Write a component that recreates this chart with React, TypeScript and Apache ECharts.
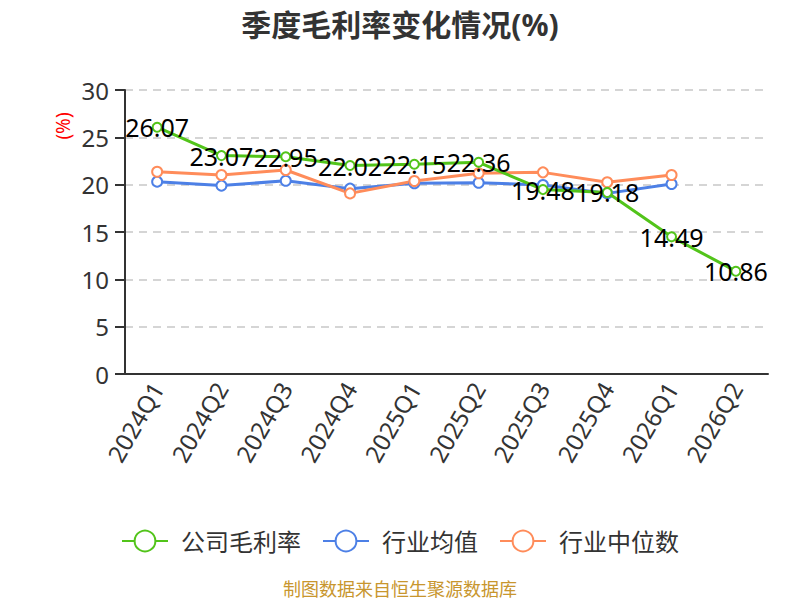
import React, { useEffect, useRef } from "react";
import * as echarts from "echarts";

const categories = ["2024Q1", "2024Q2", "2024Q3", "2024Q4", "2025Q1", "2025Q2", "2025Q3", "2025Q4", "2026Q1", "2026Q2"];
const companyMargin = [26.07, 23.07, 22.95, 22.02, 22.15, 22.36, 19.48, 19.18, 14.49, 10.86];
const industryAvg = [20.32, 19.9, 20.42, 19.58, 20.15, 20.2, 19.97, 19.08, 20.07, null];
const industryMedian = [21.37, 21.02, 21.55, 19.08, 20.39, 21.2, 21.3, 20.25, 21.02, null];

const FONT = "'Noto Sans', 'Noto Sans CJK SC', sans-serif";

export default function App() {
  const ref = useRef<HTMLDivElement>(null);
  useEffect(() => {
    document.body.style.margin = "0";
    const chart = echarts.init(ref.current!, null, { renderer: "svg" });
    chart.setOption({
      animation: false,
      textStyle: { fontFamily: FONT },
      title: {
        text: "季度毛利率变化情况(%)",
        left: "center",
        top: 4,
        textStyle: { fontSize: 30, fontWeight: "bold", color: "#333", fontFamily: FONT },
      },
      grid: { left: 125, right: 32, top: 90, bottom: 226 },
      legend: {
        top: 524,
        left: "center",
        itemWidth: 46,
        itemHeight: 26,
        itemGap: 21,
        textStyle: { fontSize: 24, color: "#333", fontFamily: FONT, padding: [0, 0, 0, 8] },
        data: ["公司毛利率", "行业均值", "行业中位数"],
      },
      graphic: [
        {
          type: "text",
          x: 400,
          y: 589,
          style: {
            text: "制图数据来自恒生聚源数据库",
            fill: "#c8962e",
            fontSize: 18,
            fontFamily: FONT,
            align: "center",
            verticalAlign: "middle",
          },
        },
        {
          type: "text",
          x: 63,
          y: 126,
          rotation: Math.PI / 2,
          style: {
            text: "(%)",
            fill: "red",
            fontSize: 19,
            fontFamily: FONT,
            align: "center",
            verticalAlign: "middle",
          },
        },
      ],
      xAxis: {
        type: "category",
        data: categories,
        boundaryGap: true,
        axisLine: { lineStyle: { color: "#333", width: 2 } },
        axisTick: { lineStyle: { color: "#333", width: 2 }, length: 6 },
        axisLabel: { rotate: 60, fontSize: 24, color: "#333", margin: 10, fontFamily: FONT },
      },
      yAxis: {
        type: "value",
        min: 0,
        max: 30,
        interval: 5,
        axisLine: { show: true, lineStyle: { color: "#333", width: 2 } },
        axisTick: { show: true, lineStyle: { color: "#333", width: 2 }, length: 10 },
        axisLabel: { fontSize: 24, color: "#333", margin: 16, fontFamily: FONT },
        splitLine: { lineStyle: { type: [8, 6], color: "#c8c8c8", width: 1.5 } },
      },
      series: [
        {
          name: "行业均值",
          type: "line",
          data: industryAvg,
          symbol: "circle",
          symbolSize: 10,
          itemStyle: { color: "#fff", borderColor: "#4d80e6", borderWidth: 2 },
          lineStyle: { color: "#4d80e6", width: 3 },
          z: 2,
        },
        {
          name: "行业中位数",
          type: "line",
          data: industryMedian,
          symbol: "circle",
          symbolSize: 10,
          itemStyle: { color: "#fff", borderColor: "#ff8c5a", borderWidth: 2 },
          lineStyle: { color: "#ff8c5a", width: 3 },
          z: 2,
        },
        {
          name: "公司毛利率",
          type: "line",
          data: companyMargin,
          symbol: "circle",
          symbolSize: 9,
          itemStyle: { color: "#fff", borderColor: "#52c41a", borderWidth: 2 },
          lineStyle: { color: "#52c41a", width: 3 },
          label: { show: true, position: "inside", fontSize: 25, color: "#000", fontFamily: FONT },
          z: 3,
        },
      ],
    });
    return () => chart.dispose();
  }, []);
  return <div ref={ref} style={{ width: 800, height: 600 }} />;
}
